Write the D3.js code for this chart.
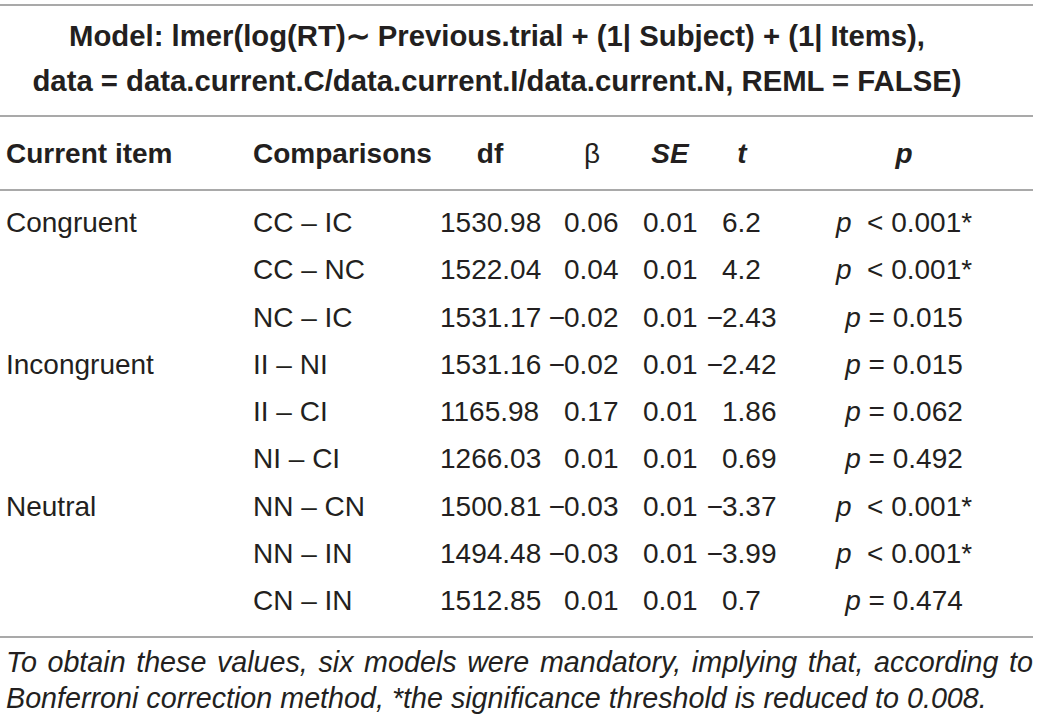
<!DOCTYPE html>
<html>
<head>
<meta charset="utf-8">
<script src="https://cdn.jsdelivr.net/npm/d3@7/dist/d3.min.js"></script>
<style>
  body { margin: 0; background: #fff; }
  text { font-family: "Liberation Sans", Arial, Helvetica, sans-serif; fill: #231f20; }
</style>
</head>
<body>
<svg id="table" width="1039" height="723"></svg>
<script>
// table content
var titleLines = [
    "Model: lmer(log(RT)\u223C Previous.trial + (1| Subject) + (1| Items),",
    "data = data.current.C/data.current.I/data.current.N, REML = FALSE)"
];
var headers = ["Current item", "Comparisons", "df", "\u03B2", "SE", "t", "p"];
var headerItalic = [false, false, false, false, true, true, true];
var headerBold = [true, true, true, false, true, true, true];
var currentItems = ["Congruent", "", "", "Incongruent", "", "", "Neutral", "", ""];
var comparisons = ["CC \u2013 IC", "CC \u2013 NC", "NC \u2013 IC", "II \u2013 NI", "II \u2013 CI",
                   "NI \u2013 CI", "NN \u2013 CN", "NN \u2013 IN", "CN \u2013 IN"];
var dfValues = [1530.98, 1522.04, 1531.17, 1531.16, 1165.98, 1266.03, 1500.81, 1494.48, 1512.85];
var betaValues = [0.06, 0.04, -0.02, -0.02, 0.17, 0.01, -0.03, -0.03, 0.01];
var seValues = [0.01, 0.01, 0.01, 0.01, 0.01, 0.01, 0.01, 0.01, 0.01];
var tValues = [6.2, 4.2, -2.43, -2.42, 1.86, 0.69, -3.37, -3.99, 0.7];
var pRelations = ["<", "<", "=", "=", "=", "=", "<", "<", "="];
var pValues = ["0.001", "0.001", "0.015", "0.015", "0.062", "0.492", "0.001", "0.001", "0.474"];
var pStars = [true, true, false, false, false, false, true, true, false];
var noteLines = [
    "To obtain these values, six models were mandatory, implying that, according to",
    "Bonferroni correction method, *the significance threshold is reduced to 0.008."
];

var svg = d3.select("#table");
var fontSize = 28;

// row positions (baselines)
var y = d3.scaleLinear()
    .domain([0, comparisons.length - 1])
    .range([232, 610]);

// column anchors: left edge for text columns, digit start for numbers, centre for p
var colX = d3.scaleOrdinal()
    .domain(["item", "comp", "df", "beta", "se", "t", "p"])
    .range([6, 253, 440, 564, 643, 722, 904]);
var headCenter = [null, null, 490, 592, 670, 742, 904];

// rules
var rules = [5, 116, 190, 637];
svg.selectAll(".rule").data(rules).enter().append("line")
    .attr("class", "rule")
    .attr("x1", 0).attr("x2", 1033)
    .attr("y1", function(d) { return d; })
    .attr("y2", function(d) { return d; })
    .attr("stroke", "#8c8c8c")
    .attr("stroke-width", 1.6);

// title
svg.selectAll(".title").data(titleLines).enter().append("text")
    .attr("class", "title")
    .attr("x", 497)
    .attr("y", function(d, i) { return 46 + i * 45; })
    .attr("text-anchor", "middle")
    .attr("font-size", 29.3)
    .attr("font-weight", "bold")
    .text(function(d) { return d; });

// header row
svg.selectAll(".head").data(headers).enter().append("text")
    .attr("class", "head")
    .attr("x", function(d, i) { return i < 2 ? colX(colX.domain()[i]) : headCenter[i]; })
    .attr("y", 163)
    .attr("text-anchor", function(d, i) { return i < 2 ? "start" : "middle"; })
    .attr("font-size", fontSize)
    .attr("font-weight", function(d, i) { return headerBold[i] ? "bold" : "normal"; })
    .attr("font-style", function(d, i) { return headerItalic[i] ? "italic" : "normal"; })
    .text(function(d) { return d; });

var rows = d3.range(comparisons.length);

function plainCol(key, values) {
    svg.selectAll(".c-" + key).data(rows).enter().append("text")
        .attr("class", "c-" + key)
        .attr("x", colX(key))
        .attr("y", function(i) { return y(i); })
        .attr("font-size", fontSize)
        .text(function(i) { return values[i]; });
}

// numeric column: digits start at anchor, minus sign hangs to the left
function numCol(key, values) {
    plainCol(key, values.map(function(v) { return String(Math.abs(v)); }));
    svg.selectAll(".m-" + key).data(rows.filter(function(i) { return values[i] < 0; }))
        .enter().append("text")
        .attr("class", "m-" + key)
        .attr("x", colX(key) + 1)
        .attr("y", function(i) { return y(i); })
        .attr("text-anchor", "end")
        .attr("font-size", fontSize)
        .text("\u2212");
}

plainCol("item", currentItems);
plainCol("comp", comparisons);
numCol("df", dfValues);
numCol("beta", betaValues);
numCol("se", seValues);
numCol("t", tValues);

// p column
var pText = svg.selectAll(".c-p").data(rows).enter().append("text")
    .attr("class", "c-p")
    .attr("x", colX("p"))
    .attr("y", function(i) { return y(i); })
    .attr("text-anchor", "middle")
    .attr("font-size", fontSize)
    .attr("xml:space", "preserve");
pText.append("tspan").attr("font-style", "italic").text("p");
pText.append("tspan").text(function(i) {
    return (pRelations[i] == "<" ? "  < " : " = ") + pValues[i] + (pStars[i] ? "*" : "");
});

// footnote, first line justified
var note = svg.selectAll(".note").data(noteLines).enter().append("text")
    .attr("class", "note")
    .attr("x", 6)
    .attr("y", function(d, i) { return 672 + i * 36; })
    .attr("font-size", 28.7)
    .attr("font-style", "italic")
    .text(function(d) { return d; });

var first = note.filter(function(d, i) { return i == 0; });
var natural = first.node().getComputedTextLength();
var gaps = noteLines[0].split(" ").length - 1;
first.attr("word-spacing", (1027 - natural) / gaps);
</script>
</body>
</html>
